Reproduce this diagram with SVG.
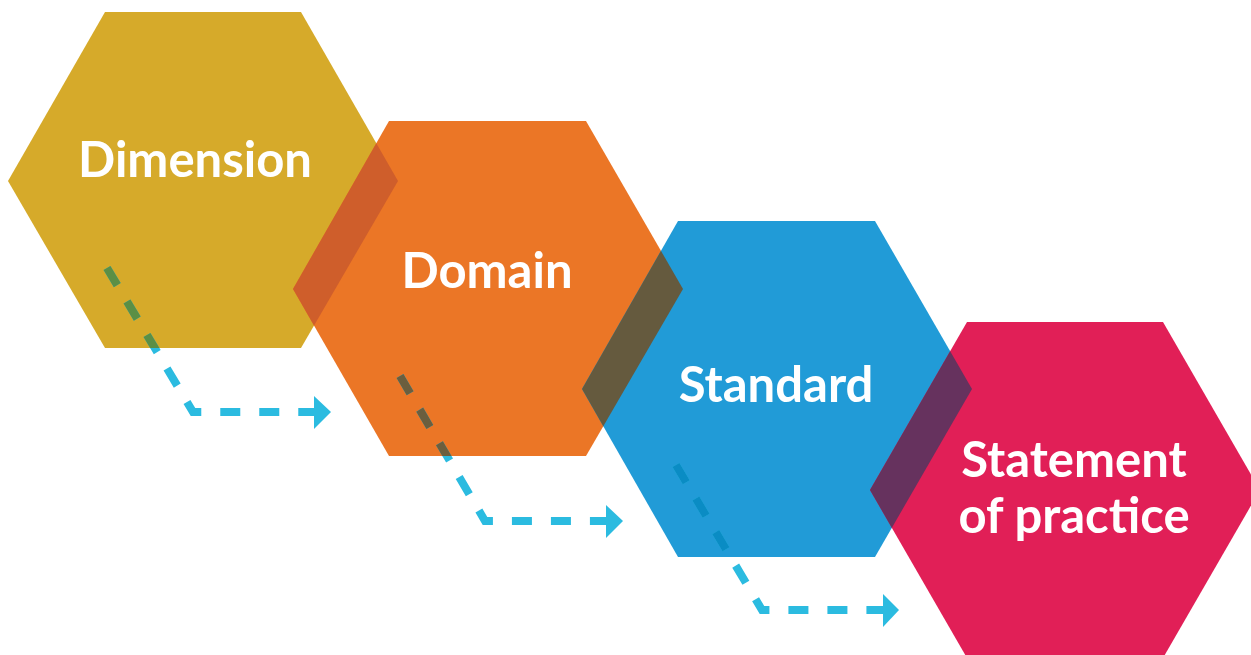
<svg xmlns="http://www.w3.org/2000/svg" width="1251" height="655" viewBox="0 0 1251 655">
<style>
.lbl{font-family:Lato,"Open Sans","Liberation Sans",sans-serif;font-weight:700;font-size:49px;fill:#ffffff;text-anchor:middle}
.dash{fill:none;stroke-width:8;stroke-dasharray:20 19;stroke-linejoin:miter}
.c0{stroke:#2BBBE0}
.head{fill:#2BBBE0}
</style>
<defs>
<polygon id="h1" points="8,181 105,12 301,12 398,181 301,348 105,348"/>
<polygon id="h2" points="293,289 389,121 586,121 683,289 586,456 389,456"/>
<polygon id="h3" points="582,389 678,221 875,221 972,389 875,557 678,557"/>
<polygon id="h4" points="870,490 967,322 1163,322 1260,490 1163,658 967,658"/>
<clipPath id="ch1"><use href="#h1"/></clipPath>
<clipPath id="ch2"><use href="#h2"/></clipPath>
<clipPath id="ch3"><use href="#h3"/></clipPath>
<path id="p1" d="M107,268 L193,412 L316,412"/>
<path id="p2" d="M400,376 L485,521 L608,521"/>
<path id="p3" d="M676,465 L762,610 L884,610"/>
</defs>
<g id="node-dimension">
<use href="#h1" fill="#D6AA2A"/>
<text class="lbl" x="195" y="177">Dimension</text>
</g>
<g id="node-domain">
<use href="#h2" fill="#EB7626"/>
<use href="#h2" fill="#CF5E2B" clip-path="url(#ch1)"/>
<text class="lbl" x="487" y="288">Domain</text>
</g>
<g id="node-standard">
<use href="#h3" fill="#219BD7"/>
<use href="#h3" fill="#655A3E" clip-path="url(#ch2)"/>
<text class="lbl" x="776" y="402">Standard</text>
</g>
<g id="node-statement">
<use href="#h4" fill="#E11F57"/>
<use href="#h4" fill="#66325E" clip-path="url(#ch3)"/>
<text class="lbl" x="1074" y="477">Statement</text>
<text class="lbl" x="1074" y="533">of practice</text>
</g>
<g id="connectors">
<use href="#p1" class="dash c0"/>
<use href="#p1" class="dash" stroke="#5B8F45" clip-path="url(#ch1)"/>
<polygon class="head" points="314,396 331,412 314,429"/>
<use href="#p2" class="dash c0"/>
<use href="#p2" class="dash" stroke="#6B5E3E" clip-path="url(#ch2)"/>
<polygon class="head" points="606,505 623,521 606,538"/>
<use href="#p3" class="dash c0"/>
<use href="#p3" class="dash" stroke="#0A8CC4" clip-path="url(#ch3)"/>
<polygon class="head" points="883,594 899,610 883,627"/>
</g>
</svg>
